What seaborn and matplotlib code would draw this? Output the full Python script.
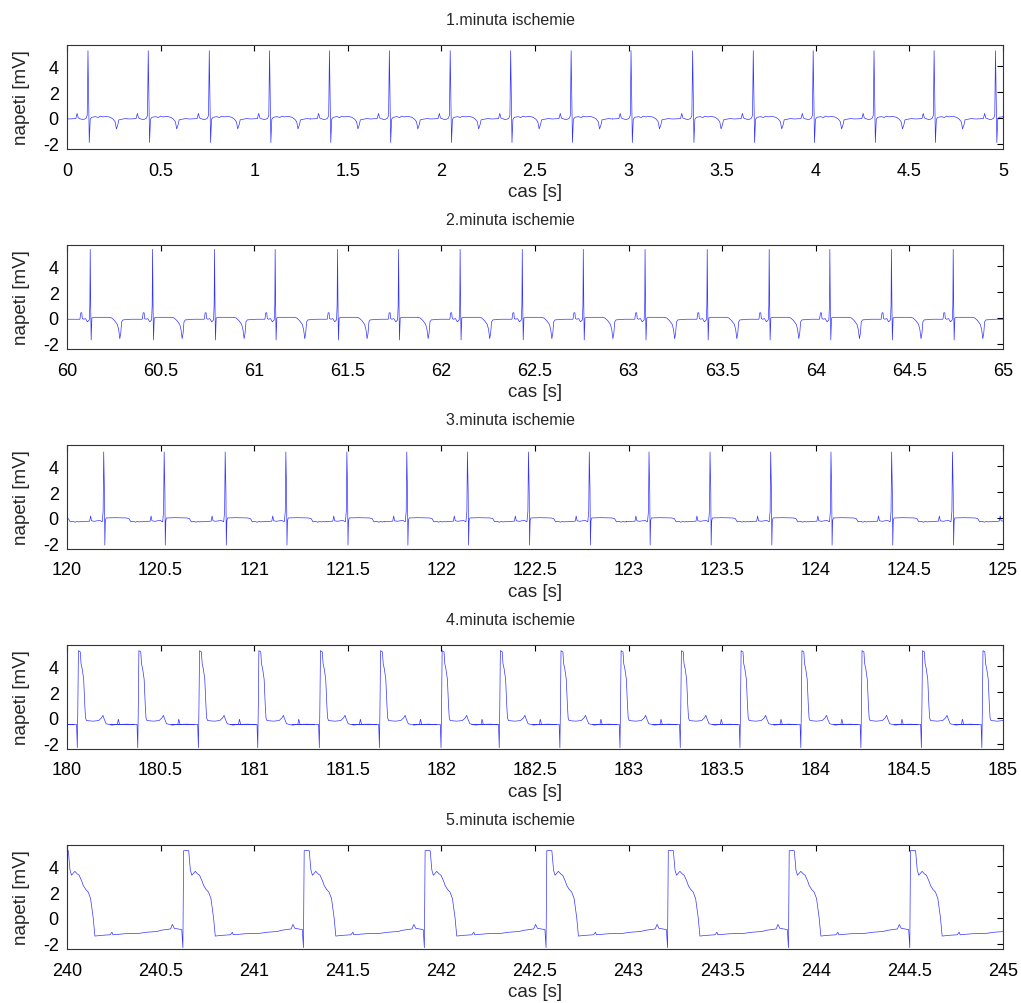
import numpy as np
import pandas as pd
import matplotlib
matplotlib.use("Agg")
import matplotlib.pyplot as plt
import seaborn as sns

# ---------------- data ----------------
panel_titles = ["1.minuta ischemie", "2.minuta ischemie", "3.minuta ischemie",
                "4.minuta ischemie", "5.minuta ischemie"]
panel_starts = [0, 60, 120, 180, 240]

# R-peak times (s, relative to panel start), incl. one beat just outside each edge
beats_1 = [-0.21, 0.112, 0.434, 0.760, 1.082, 1.402, 1.722, 2.047, 2.370, 2.693,
           3.013, 3.342, 3.666, 3.986, 4.311, 4.632, 4.960, 5.28]
beats_2 = [-0.206, 0.124, 0.457, 0.788, 1.112, 1.445, 1.771, 2.100, 2.432, 2.758,
           3.088, 3.420, 3.751, 4.075, 4.404, 4.734, 5.06]
beats_3 = [-0.128, 0.196, 0.519, 0.845, 1.169, 1.495, 1.815, 2.139, 2.465, 2.790,
           3.109, 3.435, 3.759, 4.081, 4.405, 4.730, 5.055]
beats_4 = [-0.263, 0.059, 0.382, 0.706, 1.023, 1.352, 1.673, 2.002, 2.313, 2.637,
           2.958, 3.280, 3.599, 3.924, 4.245, 4.568, 4.891, 5.213]
beats_5 = [-0.02, 0.623, 1.267, 1.913, 2.563, 3.212, 3.858, 4.506, 5.15]

# beat shapes: offset from R peak (s) and voltage (mV)
shape_1_t = [-0.100, -0.065, -0.058, -0.052, -0.045, -0.030, -0.020, -0.010, -0.004, 0.000,
             0.004, 0.007, 0.012, 0.020, 0.040, 0.055, 0.065, 0.080, 0.100, 0.120,
             0.135, 0.145, 0.152, 0.160, 0.165, 0.180, 0.200, 0.220]
shape_1_v = [-0.08, -0.05, 0.35, 0.00, -0.05, -0.12, -0.10, -0.02, 0.20, 5.20,
             1.00, -1.90, -0.10, 0.05, 0.10, 0.03, 0.14, 0.08, 0.12, 0.05,
             -0.10, -0.30, -0.85, -0.50, -0.15, -0.10, -0.05, -0.08]

shape_2_t = [-0.100, -0.055, -0.050, -0.045, -0.042, -0.035, -0.025, -0.015, -0.005, -0.002,
             0.000, 0.003, 0.005, 0.009, 0.020, 0.100, 0.115, 0.130, 0.145, 0.152,
             0.158, 0.163, 0.168, 0.175, 0.220]
shape_2_v = [-0.10, -0.10, 0.40, 0.40, -0.05, -0.10, -0.05, -0.30, -0.15, 1.00,
             5.30, 0.50, -1.70, 0.00, 0.05, 0.05, 0.00, -0.20, -0.50, -0.90,
             -1.60, -1.20, -0.30, -0.15, -0.10]

shape_3_t = [-0.120, -0.100, -0.075, -0.070, -0.065, -0.050, -0.035, -0.020, -0.008, -0.003,
             0.000, 0.004, 0.006, 0.009, 0.013, 0.060, 0.120, 0.135, 0.145, 0.160,
             0.170, 0.180, 0.190, 0.200]
shape_3_v = [-0.30, -0.27, -0.25, 0.15, -0.22, -0.26, -0.22, -0.20, -0.30, 0.50,
             5.10, 2.00, -2.10, -0.20, 0.00, 0.02, 0.00, -0.05, -0.30, -0.26,
             -0.33, -0.27, -0.31, -0.28]

shape_4_t = [-0.150, -0.060, -0.008, -0.004, -0.001, 0.002, 0.012, 0.016, 0.022, 0.030,
             0.036, 0.040, 0.045, 0.080, 0.110, 0.125, 0.133, 0.140, 0.150, 0.180,
             0.210, 0.215, 0.222, 0.260, 0.300]
shape_4_v = [-0.50, -0.52, -0.50, -2.30, 1.00, 5.20, 5.10, 4.20, 3.80, 3.00,
             1.00, 0.00, -0.20, -0.25, -0.20, 0.00, 0.20, -0.10, -0.45, -0.55,
             -0.50, -0.10, -0.50, -0.48, -0.52]

shape_5_t = [-0.120, -0.070, -0.060, -0.050, -0.030, -0.010, -0.004, 0.000, 0.027, 0.036,
             0.044, 0.062, 0.075, 0.085, 0.100, 0.107, 0.120, 0.133, 0.146, 0.160,
             0.169, 0.200, 0.250, 0.260, 0.265, 0.330, 0.400, 0.450, 0.500]
shape_5_v = [-0.95, -0.85, -0.50, -0.80, -0.85, -0.90, -2.30, 5.20, 5.20, 3.70,
             3.30, 3.60, 3.40, 3.30, 2.80, 2.50, 2.20, 2.00, 1.50, 0.00,
             -1.40, -1.35, -1.30, -1.10, -1.30, -1.22, -1.20, -1.10, -1.05]

beats = [beats_1, beats_2, beats_3, beats_4, beats_5]
shapes = [(shape_1_t, shape_1_v), (shape_2_t, shape_2_v), (shape_3_t, shape_3_v),
          (shape_4_t, shape_4_v), (shape_5_t, shape_5_v)]

y_ticks = [-2, 0, 2, 4]
y_limits = (-2.4, 5.66)

# ---------------- styling ----------------
sns.set_style("white")
plt.rcParams['font.family'] = ['Liberation Sans', 'DejaVu Sans']

W, H = 1021, 1004
fig = plt.figure(figsize=(W / 100, H / 100), dpi=100)

ax_left, ax_right = 67, 1003
ax_tops = [45.7, 245.7, 445.7, 645.7, 845.7]
ax_h = 104.3

for i in range(5):
    top = ax_tops[i]
    ax = fig.add_axes([ax_left / W, 1 - (top + ax_h) / H, (ax_right - ax_left) / W, ax_h / H])
    st = panel_starts[i]
    st_t, st_v = shapes[i]
    rows_t, rows_v = [], []
    for b in beats[i]:
        for o, v in zip(st_t, st_v):
            rows_t.append(st + b + o)
            rows_v.append(v)
    df = pd.DataFrame({"cas": rows_t, "napeti": rows_v})
    sns.lineplot(data=df, x="cas", y="napeti", ax=ax, sort=False, estimator=None,
                 color="#0000ff", linewidth=0.5, alpha=0.8)
    ax.set_xlim(st, st + 5)
    ax.set_ylim(*y_limits)
    xt = [st + 0.5 * k for k in range(11)]
    ax.set_xticks(xt)
    ax.set_xticklabels(["%g" % v for v in xt])
    ax.set_yticks(y_ticks)
    ax.set_yticklabels(["%g" % v for v in y_ticks])
    ax.tick_params(direction="in", length=4, width=0.8, top=True, right=True,
                   labelsize=13, colors="black")
    ax.tick_params(axis="x", pad=9)
    ax.tick_params(axis="y", pad=6)
    for s in ax.spines.values():
        s.set_color("#333333")
        s.set_linewidth(0.8)
    ax.set_xlabel("cas [s]", fontsize=13.5, labelpad=3)
    ax.set_ylabel("napeti [mV]", fontsize=13.5, labelpad=9)
    fig.text(0.5, 1 - (top - 25) / H, panel_titles[i], ha="center", va="center", fontsize=11.5)

fig.savefig("out.png", dpi=100)
